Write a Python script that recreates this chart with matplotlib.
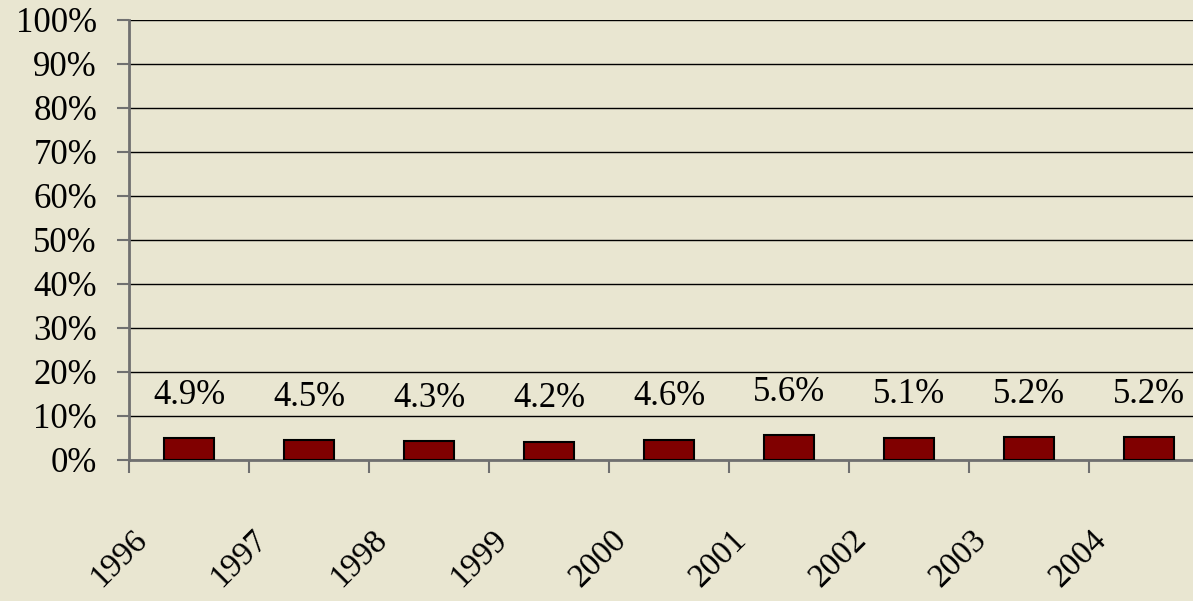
import matplotlib.pyplot as plt
from matplotlib.transforms import ScaledTranslation

years = ["1996", "1997", "1998", "1999", "2000", "2001", "2002", "2003", "2004"]
values = [4.9, 4.5, 4.3, 4.2, 4.6, 5.6, 5.1, 5.2, 5.2]
yticks = list(range(0, 101, 10))

bg = "#E9E6D1"
plt.rcParams["font.family"] = ["Liberation Serif", "DejaVu Serif"]

fig = plt.figure(figsize=(11.93, 6.01), dpi=100, facecolor=bg)
ax = fig.add_axes([129 / 1193, 141 / 601, 1080 / 1193, 440 / 601])
ax.set_facecolor(bg)

x = list(range(len(years)))
bars = ax.bar(x, values, width=0.42, color="#800000", edgecolor="black", linewidth=1.5, zorder=3)

for xi, v in zip(x, values):
    ax.annotate(f"{v:.1f}%", (xi, v), xytext=(0, 31), textcoords="offset points",
                ha="center", va="center", fontsize=25, zorder=4)

ax.set_xlim(-0.5, len(years) - 0.5)
ax.set_ylim(0, 100)
ax.set_yticks(yticks)
ax.set_yticklabels([f"{t}%" for t in yticks], fontsize=25)
ax.yaxis.grid(True, color="black", linewidth=1.0, zorder=0)
ax.set_axisbelow(True)

# ticks on category boundaries, year labels at the centers
ax.set_xticks([k - 0.5 for k in range(len(years) + 1)])
ax.set_xticklabels([])
ax.set_xticks(x, minor=True)
ax.set_xticklabels(years, minor=True, rotation=45, ha="right", va="top", fontsize=24)
ax.tick_params(axis="x", which="minor", length=0, pad=46)
ax.tick_params(axis="x", which="major", length=9, width=1.5, color="#707070", direction="out")
ax.tick_params(axis="y", length=9, width=1.5, color="#707070", pad=14)

off = ScaledTranslation(-0.36, 0, fig.dpi_scale_trans)
for lab in ax.get_xticklabels(minor=True):
    lab.set_transform(lab.get_transform() + off)

for s in ["top", "right"]:
    ax.spines[s].set_visible(False)
for s in ["left", "bottom"]:
    ax.spines[s].set_color("#707070")
    ax.spines[s].set_linewidth(2)

fig.savefig("out.png", dpi=100, facecolor=bg)
